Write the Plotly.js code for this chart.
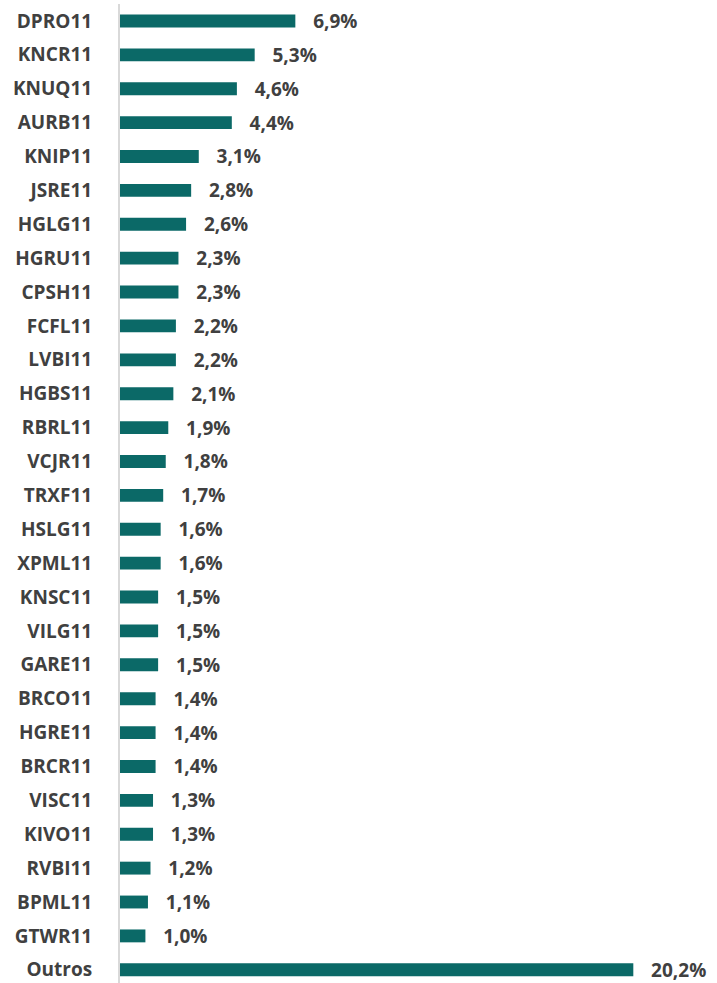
<!DOCTYPE html>
<html>
<head>
<meta charset="utf-8">
<script src="https://cdn.plot.ly/plotly-3.0.1.min.js"></script>
<style>
  html, body { margin: 0; padding: 0; background: #fff; }
  #chart { width: 717px; height: 983px; }
</style>
</head>
<body>
<div id="chart"></div>
<script>
// fundos e participação (%)
const funds = [
  "DPRO11", "KNCR11", "KNUQ11", "AURB11", "KNIP11", "JSRE11", "HGLG11", "HGRU11",
  "CPSH11", "FCFL11", "LVBI11", "HGBS11", "RBRL11", "VCJR11", "TRXF11", "HSLG11",
  "XPML11", "KNSC11", "VILG11", "GARE11", "BRCO11", "HGRE11", "BRCR11", "VISC11",
  "KIVO11", "RVBI11", "BPML11", "GTWR11", "Outros"
];
const shares = [
  6.9, 5.3, 4.6, 4.4, 3.1, 2.8, 2.6, 2.3,
  2.3, 2.2, 2.2, 2.1, 1.9, 1.8, 1.7, 1.6,
  1.6, 1.5, 1.5, 1.5, 1.4, 1.4, 1.4, 1.3,
  1.3, 1.2, 1.1, 1.0, 20.2
];

const barColor = "#0b6967";
const textColor = "#404040";
const pad = "\u00a0\u00a0\u00a0";

// rótulos com vírgula decimal
const labels = shares.map(v => pad + v.toFixed(1).replace(".", ",") + "%");

const trace = {
  type: "bar",
  orientation: "h",
  x: shares,
  y: funds,
  marker: { color: barColor },
  text: labels,
  textposition: "outside",
  cliponaxis: false,
  constraintext: "none",
  textfont: { family: "Open Sans", size: 19, color: textColor, weight: 700 },
  hoverinfo: "skip"
};

const layout = {
  width: 717,
  height: 983,
  margin: { l: 120, r: 10, t: 4, b: 0 },
  paper_bgcolor: "#fff",
  plot_bgcolor: "#fff",
  showlegend: false,
  bargap: 0.62,
  xaxis: {
    range: [0, 23.1],
    visible: false,
    showgrid: false,
    zeroline: false
  },
  yaxis: {
    type: "category",
    range: [28.39, -0.5],
    showline: true,
    linecolor: "#d9d9d9",
    linewidth: 2,
    ticks: "",
    ticklabelstandoff: 22,
    showgrid: false,
    zeroline: false,
    tickfont: { family: "Open Sans", size: 19, color: textColor, weight: 700 }
  }
};

Plotly.newPlot("chart", [trace], layout, { displayModeBar: false, staticPlot: true });
</script>
</body>
</html>
